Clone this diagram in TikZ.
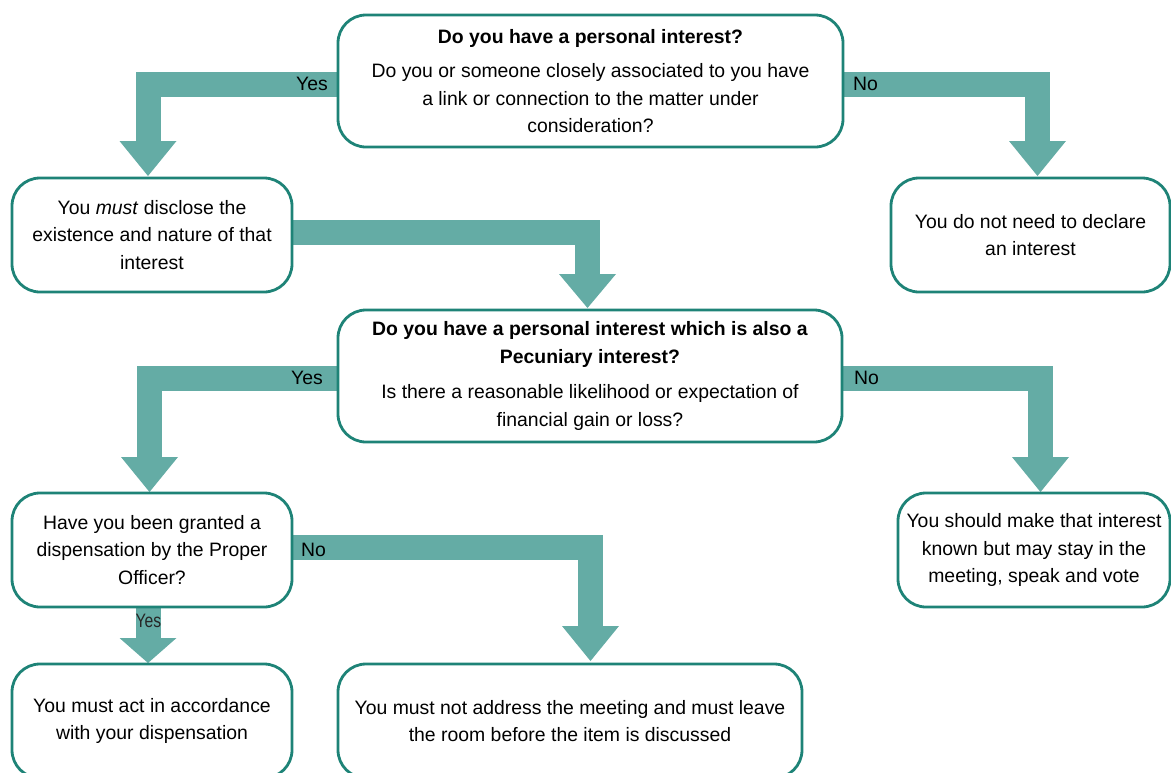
\documentclass[tikz,border=0pt]{standalone}
\usepackage{fontspec}
\setmainfont{Liberation Sans}
\usetikzlibrary{calc}
\definecolor{arrowc}{HTML}{64ACA5}
\definecolor{boxc}{HTML}{1E8377}
\pgfdeclarelayer{bg}
\pgfsetlayers{bg,main}
% #1 start point, #2 tip point, #3 head length
\newcommand\flowarr[3]{%
  \draw[band] #1 -| ($#2+(0,-#3)+(0,1)$);
  \fill[arrowc] #2 -- ++(-28.5,-#3) -- ++(57,0) -- cycle;}
\tikzset{
  box/.style={draw=boxc, line width=2.8pt, fill=white, rounded corners=28pt,
    inner sep=0pt, outer sep=0pt, align=center, text=black,
    font=\fontsize{19.4}{27.5}\selectfont},
  band/.style={draw=arrowc, line width=25pt},
  lab/.style={font=\fontsize{19.4}{23}\selectfont, inner sep=0pt, text=black},
}
\begin{document}
\begin{tikzpicture}[x=1pt,y=-1pt]
\useasboundingbox (0,0) rectangle (1171,772);
\clip (0,0) rectangle (1171,772);

\node[box, minimum width=505pt, minimum height=132pt] (q1) at (590.5,81)
  {\textbf{Do you have a personal interest?}\\[7pt]
   Do you or someone closely associated to you have\\
   a link or connection to the matter under\\
   consideration?};
\node[box, minimum width=280pt, minimum height=114pt] (d) at (152,235)
  {You \textit{must} disclose the\\existence and nature of that\\interest};
\node[box, minimum width=279pt, minimum height=114pt] (n1) at (1030.5,235)
  {You do not need to declare\\an interest};
\node[box, minimum width=504pt, minimum height=132pt] (q2) at (590,376)
  {\textbf{Do you have a personal interest which is also a}\\
   \textbf{Pecuniary interest?}\\[8pt]
   Is there a reasonable likelihood or expectation of\\
   financial gain or loss?};
\node[box, minimum width=280pt, minimum height=114pt] (q3) at (152,550)
  {Have you been granted a\\dispensation by the Proper\\Officer?};
\node[box, minimum width=272pt, minimum height=114pt] (n2) at (1034,550)
  {You should make that interest\\known but may stay in the\\meeting, speak and vote};
\node[box, minimum width=280pt, minimum height=114pt] (a) at (152,721)
  {You must act in accordance\\with your dispensation};
\node[box, minimum width=464pt, minimum height=114pt] (m) at (570,721)
  {You must not address the meeting and must leave\\the room before the item is discussed};

\coordinate (s1) at ([yshift=-3.5pt]q1.west);
\coordinate (t1) at ([xshift=-4pt,yshift=2pt]d.north);
\coordinate (s2) at ([yshift=-3.5pt]q1.east);
\coordinate (t2) at ([xshift=7pt,yshift=2pt]n1.north);
\coordinate (s3) at ([yshift=2.5pt]d.east);
\coordinate (t3) at ([xshift=-2.5pt,yshift=2pt]q2.north);
\coordinate (s4) at ([yshift=-2.5pt]q2.west);
\coordinate (t4) at ([xshift=-2.5pt,yshift=1pt]q3.north);
\coordinate (s5) at ([yshift=-2.5pt]q2.east);
\coordinate (t5) at ([xshift=6.5pt,yshift=1pt]n2.north);
\coordinate (s6) at ([yshift=2.5pt]q3.east);
\coordinate (t6) at ([xshift=20.5pt,yshift=3pt]m.north);
\coordinate (s7) at ([xshift=-4pt]q3.south);
\coordinate (t7) at ([xshift=-4pt,yshift=1pt]a.north);

\begin{pgfonlayer}{bg}
  \flowarr{(s1)}{(t1)}{35}
  \flowarr{(s2)}{(t2)}{35}
  \flowarr{(s3)}{(t3)}{34}
  \flowarr{(s4)}{(t4)}{35}
  \flowarr{(s5)}{(t5)}{35}
  \flowarr{(s6)}{(t6)}{35}
  \draw[band] (s7) -- ($(t7)+(0,-24)$);
  \fill[arrowc] (t7) -- ++(-28.5,-25) -- ++(57,0) -- cycle;
\end{pgfonlayer}

\node[lab, anchor=east] (y1) at ([xshift=-10pt,yshift=-3pt]q1.west) {Yes};
\node[lab, anchor=west] (no1) at ([xshift=10pt,yshift=-3pt]q1.east) {No};
\node[lab, anchor=east] (y2) at ([xshift=-15pt,yshift=-2pt]q2.west) {Yes};
\node[lab, anchor=west] (no2) at ([xshift=12pt,yshift=-1.5pt]q2.east) {No};
\node[lab, anchor=west] (no3) at ([xshift=9pt]q3.east) {No};
\node[lab, xscale=0.81, text=black!85] (y3)
  at ([xshift=-3.5pt,yshift=-14pt]q3.south) {Yes};
\end{tikzpicture}
\end{document}
